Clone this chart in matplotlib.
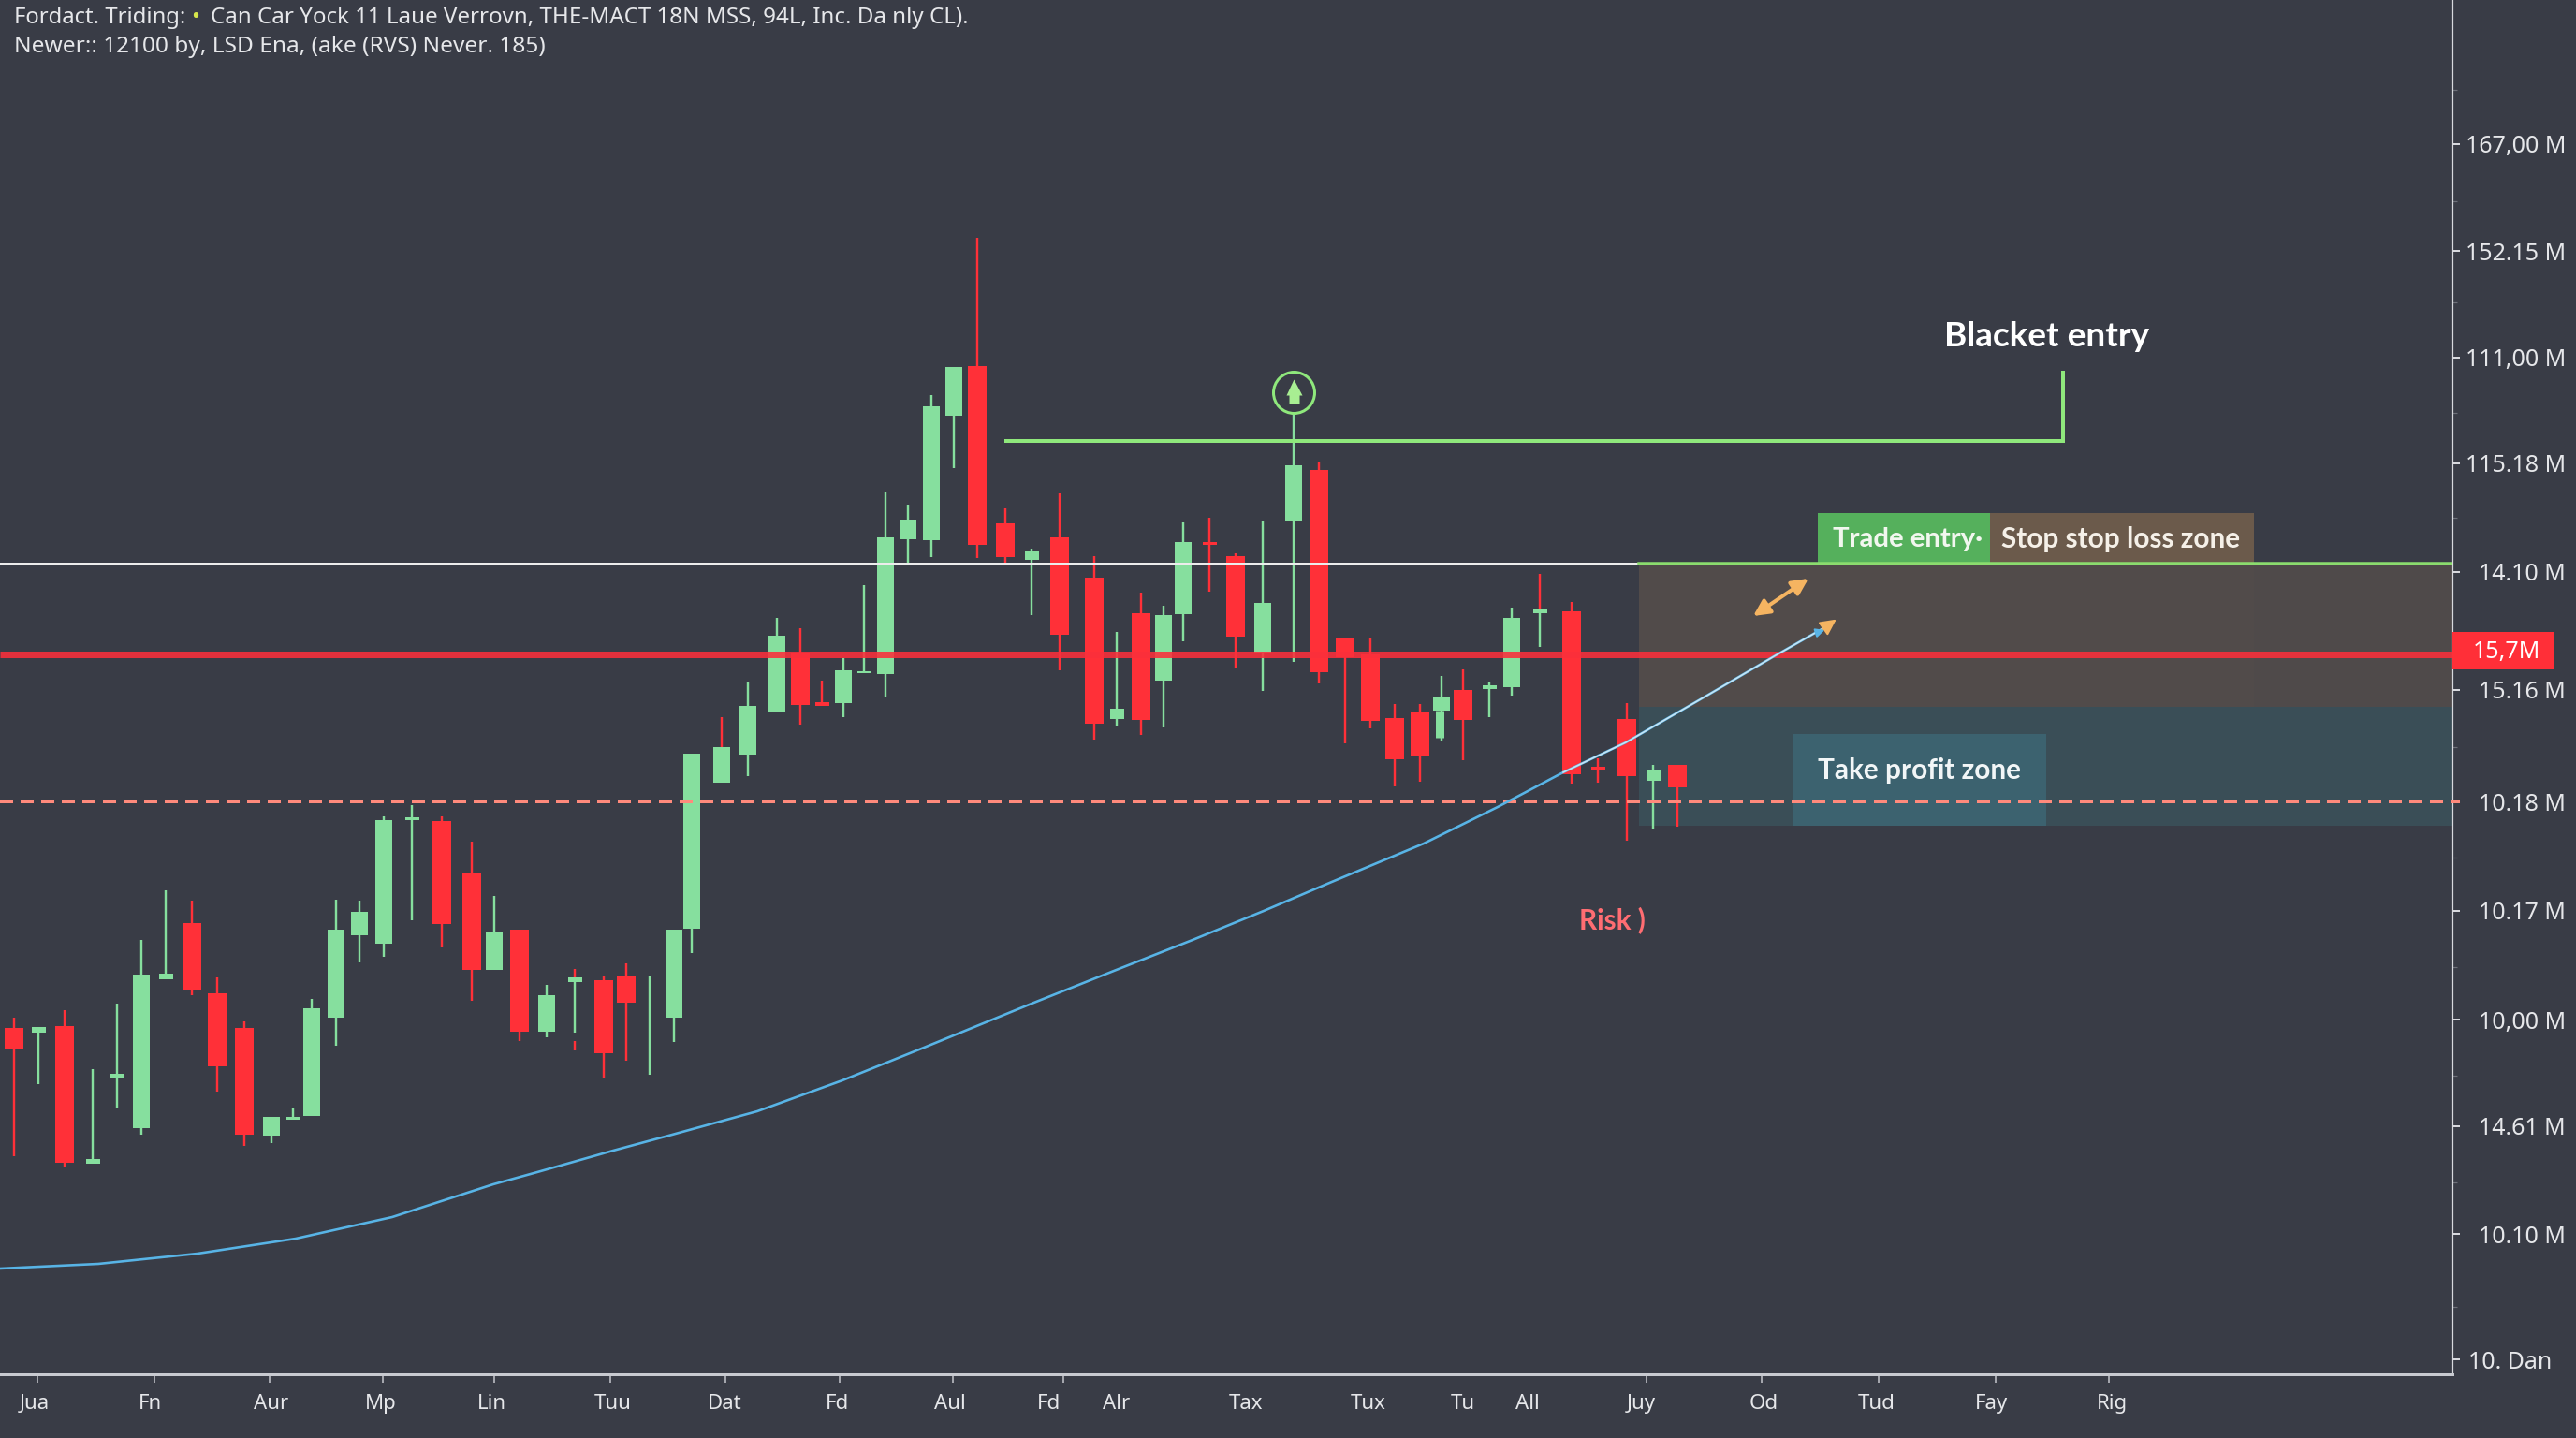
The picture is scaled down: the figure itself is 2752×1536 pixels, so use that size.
import numpy as np
import matplotlib
matplotlib.use('Agg')
import matplotlib.pyplot as plt
from matplotlib.patches import Rectangle

plt.rcParams['font.family'] = ['Noto Sans', 'DejaVu Sans']

BG = '#393c46'
UP = '#86df9e'
DOWN = '#ff3038'
TEXT = '#e6e7ea'

# session position, then the levels of each candle (the level axis runs downward)
bar_x = [15, 41, 69, 99, 125, 151, 177, 205, 232, 261, 290, 313, 333, 359, 384, 410, 440, 472, 504, 528,
         555, 584, 614, 645, 669, 694, 720, 739, 771, 799, 830, 855, 878, 901, 923, 946, 970, 995, 1019, 1044,
         1074, 1102, 1132, 1169, 1193, 1219, 1243, 1264, 1292, 1320, 1349, 1382, 1409, 1437, 1464, 1490, 1517, 1540, 1563, 1591,
         1615, 1645, 1679, 1707, 1738, 1766, 1792]
bar_dir = list('rgrggggrrrgggggggrrg'
               'rggrrggggggrrggggggr'
               'rgrrgrggrrggrrrrrgrg'
               'ggrrrgr')
body_top = [1098, 1097, 1096, 1238, 1147, 1041, 1040, 986, 1061, 1098, 1193, 1193, 1077, 993, 974, 876, 873, 877, 932, 996,
            993, 1063, 1044, 1047, 1043, 1060, 993, 805, 798, 754, 679, 697, 750, 716, 717, 574, 555, 434, 392, 391,
            559, 589, 574, 617, 757, 655, 657, 579, 579, 594, 644, 497, 502, 682, 699, 767, 761, 744, 737, 732,
            660, 651, 653, 819, 768, 823, 817]
body_bot = [1120, 1103, 1242, 1243, 1151, 1205, 1046, 1057, 1139, 1212, 1213, 1196, 1192, 1087, 999, 1008, 876, 987, 1036, 1036,
            1102, 1102, 1049, 1125, 1071, 1060, 1087, 992, 836, 806, 761, 753, 754, 751, 719, 720, 576, 577, 444, 582,
            595, 598, 678, 773, 768, 769, 727, 656, 582, 680, 697, 556, 718, 702, 770, 811, 807, 759, 769, 736,
            734, 655, 827, 822, 829, 834, 841]
wick_top = [1087, 1097, 1079, 1142, 1072, 1004, 951, 962, 1044, 1091, 1193, 1184, 1067, 961, 962, 872, 860, 872, 899, 957,
            993, 1052, 1044, 1042, 1029, 1043, 993, 805, 798, 729, 660, 671, 727, 703, 625, 526, 539, 422, 392, 254,
            543, 586, 527, 594, 675, 633, 647, 558, 553, 591, 557, 441, 494, 682, 682, 752, 752, 722, 715, 729,
            649, 651, 643, 810, 751, 817, 817]
wick_bot = [1235, 1158, 1246, 1243, 1183, 1212, 1046, 1063, 1166, 1224, 1221, 1196, 1192, 1117, 1028, 1022, 983, 1012, 1069, 1036,
            1112, 1108, 1103, 1151, 1133, 1148, 1113, 1018, 836, 829, 761, 774, 754, 766, 719, 745, 602, 595, 500, 596,
            604, 657, 716, 790, 775, 785, 777, 685, 632, 713, 738, 707, 730, 794, 778, 840, 835, 792, 812, 766,
            743, 691, 837, 836, 898, 886, 883]

# red wick pieces that sit on otherwise green candles
stray_x = [614, 614, 771, 1645]
stray_top = [1035, 1112, 766, 613]
stray_bot = [1044, 1122, 798, 651]

curve_x = [0, 105, 211, 316, 419, 527, 574, 655, 718, 809, 900, 987, 1102, 1190, 1274, 1350, 1418, 1521, 1600, 1670,
           1737, 1820, 1897, 1955]
curve_y = [1355, 1350, 1339, 1323, 1300, 1265, 1252, 1229, 1212, 1187, 1154, 1119, 1072, 1037, 1004, 973, 944, 901, 862, 825,
           793, 745, 700, 667]

entry_level = 602
mid_level = 699
stop_level = 755
zone_bottom = 882
dashed_level = 856
bracket_level = 471
axis_bottom = 1468
axis_right = 2620

price_ticks = [154, 268, 382, 495, 611, 737, 856, 973, 1089, 1203, 1318, 1452]
price_labels = ['167,00 M', '152.15 M', '111,00 M', '115.18 M', '14.10 M', '15.16 M', '10.18 M',
                '10.17 M', '10,00 M', '14.61 M', '10.10 M', '10. Dan']
price_minor = [96, 215, 323, 441, 553, 699, 798, 916, 1033, 1149, 1263, 1396]

month_pos = [37, 160, 290, 407, 525, 655, 774, 895, 1015, 1120, 1193, 1331, 1462, 1563, 1632, 1753, 1884, 2005, 2128, 2256]
month_labels = ['Jua', 'Fn', 'Aur', 'Mp', 'Lin', 'Tuu', 'Dat', 'Fd', 'Aul', 'Fd', 'Alr', 'Tax', 'Tux', 'Tu', 'All',
                'Juy', 'Od', 'Tud', 'Fay', 'Rig']
month_marks = [40, 165, 288, 409, 528, 652, 775, 897, 1018, 1136, 1632, 1759, 1882, 2007, 2132, 2253]


def px(n):
    # pixels to points at dpi 100
    return n * 0.72


fig = plt.figure(figsize=(27.52, 15.36), dpi=100, facecolor=BG)
ax = fig.add_axes([0, 68 / 1536, 2620 / 2752, 1468 / 1536], facecolor=BG)
ax.set_xlim(0, axis_right)
ax.set_ylim(axis_bottom, 0)

# zones
ax.add_patch(Rectangle((1751, entry_level), 869, stop_level - entry_level, fc='#4f4a4a', ec='none', zorder=1))
ax.add_patch(Rectangle((1751, entry_level), 657, stop_level - entry_level, fc='#514b4a', ec='none', zorder=1))
ax.add_patch(Rectangle((1751, stop_level), 869, zone_bottom - stop_level, fc='#3a4e57', ec='none', zorder=1))
ax.add_patch(Rectangle((1916, 784), 270, zone_bottom - 784, fc='#3c626f', ec='none', zorder=1.5))
ax.add_patch(Rectangle((1942, 548), 184, entry_level - 548, fc='#55b05c', ec='none', zorder=1.5))
ax.add_patch(Rectangle((2126, 548), 282, entry_level - 548, fc='#6b5a4b', ec='none', zorder=1.5))

# candles
for i in range(len(bar_x)):
    col = UP if bar_dir[i] == 'g' else DOWN
    h = body_bot[i] - body_top[i]
    w = 15 if h < 14 else (20 if bar_dir[i] == 'r' else 18)
    ax.vlines(bar_x[i], wick_top[i], wick_bot[i], color=col, lw=px(2.4), zorder=3)
    ax.bar(bar_x[i], h, width=w, bottom=body_top[i], color=col, lw=0, zorder=3)
ax.vlines(stray_x, stray_top, stray_bot, color=DOWN, lw=px(2.4), zorder=3)
ax.vlines(1538, 759, 788, color=UP, lw=px(9), zorder=3)

# horizontal levels
ax.plot([0, 1751], [entry_level, entry_level], color='#ececec', lw=px(3), zorder=4)
ax.plot([1751, axis_right], [entry_level, entry_level], color='#8bdc6e', lw=px(3.5), zorder=4)
ax.plot([0, axis_right], [mid_level, mid_level], color='#fb2f3b', lw=px(7), alpha=0.88, zorder=4,
        solid_capstyle='butt')
ax.plot([0, axis_right + 8], [dashed_level, dashed_level], color='#ff8a7c', lw=px(4), zorder=4, clip_on=False,
        dashes=(14 / 4, 8 / 4), dash_capstyle='butt')

# bracket and marker above the spike candle
ax.plot([1075, 2204, 2204], [bracket_level, bracket_level, 398], color='#8fe87c', lw=px(4), zorder=4,
        solid_joinstyle='miter')
ax.plot([1382], [419], marker='o', ms=px(44), mfc='none', mec='#8fe87c', mew=px(3), zorder=5)
ax.plot([1382], [413], marker='^', ms=px(17), mfc='#a8ee92', mec='none', zorder=5)
ax.plot([1382], [425], marker='s', ms=px(11), mfc='#a8ee92', mec='none', zorder=5)

# moving average with the arrow at its tail
ax.plot(curve_x, curve_y, color='#58b4e6', lw=px(2.6), zorder=6, solid_joinstyle='round')
ax.plot(curve_x[-5:], curve_y[-5:], color='#e4f1f8', lw=px(1.6), alpha=0.8, zorder=6)
ax.annotate('', xy=(1964, 660), xytext=(curve_x[-1] - 12, curve_y[-1] + 8),
            arrowprops=dict(arrowstyle='-|>', color='#f5b461', lw=px(2), mutation_scale=26), zorder=6)
ax.annotate('', xy=(1952, 672), xytext=(curve_x[-1] - 12, curve_y[-1] + 8),
            arrowprops=dict(arrowstyle='-|>', color='#58b4e6', lw=px(2), mutation_scale=14), zorder=7)
ax.annotate('', xy=(1932, 618), xytext=(1873, 658),
            arrowprops=dict(arrowstyle='<|-|>', color='#f5b461', lw=px(4), mutation_scale=26,
                            shrinkA=0, shrinkB=0), zorder=6)

# axes
for s in ['top', 'left']:
    ax.spines[s].set_visible(False)
ax.spines['right'].set_color('#d8d9de')
ax.spines['right'].set_linewidth(px(2.2))
ax.spines['bottom'].set_color('#c8cad0')
ax.spines['bottom'].set_linewidth(px(3))

ax.yaxis.tick_right()
ax.set_yticks(price_ticks)
ax.set_yticklabels(price_labels, fontsize=18, color=TEXT, ha='right')
ax.set_yticks(price_minor, minor=True)
ax.tick_params(axis='y', which='major', length=px(8), width=px(2), color='#d8d9de', pad=px(113))
ax.tick_params(axis='y', which='minor', length=px(5), width=px(1.2), color='#6d7079')
ax.yaxis.get_major_ticks()[-1].set_pad(px(98))

ax.set_xticks(month_pos)
ax.set_xticklabels(month_labels, fontsize=16, color=TEXT)
ax.set_xticks(month_marks, minor=True)
ax.tick_params(axis='x', which='major', length=0, pad=px(21))
ax.tick_params(axis='x', which='minor', length=px(9), width=px(1.5), color='#c8cad0')

# labels on the chart, bold faces come from Lato
lab = dict(family='Lato', fontweight='bold', va='center', zorder=8)
ax.text(2187, 360, 'Blacket entry', color='white', fontsize=26.6, ha='center', **lab)
ax.text(1958, 576, 'Trade entry·', color='#f2f7ef', fontsize=21.2, **lab)
ax.text(2138, 576, 'Stop stop loss zone', color='#f5f0e8', fontsize=21.4, **lab)
ax.text(1942, 823, 'Take profit zone', color='#f2f6f7', fontsize=21.4, **lab)
ax.text(1687, 983, 'Risk )', color='#ff6d72', fontsize=21.4, **lab)

ax.add_patch(Rectangle((axis_right, 675), 108, 40, fc='#ff2f38', ec='none', clip_on=False, zorder=8))
ax.text(2642, 697, '15,7M', color='white', fontsize=18, va='center', zorder=9, clip_on=False)

# header lines
ax.text(15, 19, 'Fordact. Triding:', color=TEXT, fontsize=17.2, va='center')
ax.text(209, 19, '•', color='#d6e64b', fontsize=17.2, va='center', ha='center')
ax.text(225, 19, 'Can Car Yock 11 Laue Verrovn, THE-MACT 18N MSS, 94L, Inc. Da nly CL).', color=TEXT,
        fontsize=17.4, va='center')
ax.text(15, 50, 'Newer:: 12100 by, LSD Ena, (ake (RVS) Never. 185)', color=TEXT, fontsize=17.6, va='center')

fig.savefig('out.png', dpi=100, facecolor=BG)
